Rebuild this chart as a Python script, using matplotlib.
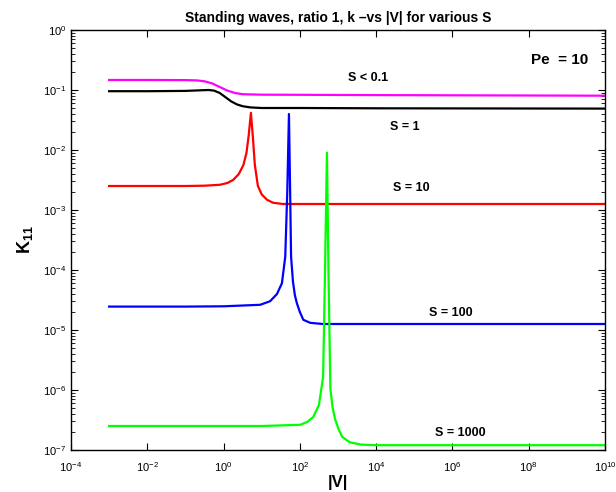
import numpy as np
import matplotlib
matplotlib.use("Agg")
import matplotlib.pyplot as plt
from matplotlib.ticker import LogLocator, NullFormatter, FixedLocator

plt.rcParams['font.family'] = ['Liberation Sans', 'DejaVu Sans']
plt.rcParams['mathtext.fontset'] = 'custom'
plt.rcParams['mathtext.rm'] = 'Liberation Sans'
plt.rcParams['mathtext.it'] = 'Liberation Sans:italic'
plt.rcParams['mathtext.bf'] = 'Liberation Sans:bold'

# log10(|V|) and log10(K11)
mag_lx = [-3, -2, -1, -0.7, -0.5, -0.3, -0.1, 0.1, 0.3, 0.5, 1, 2, 4, 10]
mag_ly = [-0.833, -0.833, -0.835, -0.84, -0.855, -0.89, -0.95, -1.01, -1.05, -1.07, -1.078, -1.08, -1.085, -1.095]

blk_lx = [-3, -2, -1, -0.6, -0.4, -0.25, -0.1, 0.05, 0.2, 0.35, 0.5, 0.7, 1, 2, 4, 10]
blk_ly = [-1.02, -1.02, -1.015, -1.005, -1.0, -1.01, -1.05, -1.12, -1.19, -1.24, -1.27, -1.29, -1.30, -1.30, -1.305, -1.31]

red_lx = [-3, -1, -0.5, -0.1, 0.1, 0.25, 0.4, 0.52, 0.6, 0.66, 0.717, 0.77, 0.82, 0.9, 1.0, 1.14, 1.3, 1.56, 2, 4, 10]
red_ly = [-2.6, -2.6, -2.595, -2.58, -2.55, -2.5, -2.4, -2.25, -2.05, -1.75, -1.38, -1.8, -2.25, -2.6, -2.74, -2.83, -2.88, -2.9, -2.9, -2.9, -2.9]

blu_lx = [-3, -1, 0, 0.96, 1.22, 1.4, 1.53, 1.617, 1.67, 1.714, 1.75, 1.77, 1.82, 1.87, 1.92, 2.0, 2.09, 2.27, 2.6, 4, 10]
blu_ly = [-4.61, -4.61, -4.605, -4.58, -4.52, -4.4, -4.22, -3.78, -2.7, -1.4, -2.9, -3.78, -4.2, -4.42, -4.55, -4.7, -4.83, -4.88, -4.9, -4.9, -4.9]

grn_lx = [-3, -1, 1, 2.01, 2.2, 2.35, 2.5, 2.61, 2.66, 2.71, 2.75, 2.80, 2.86, 2.93, 3.02, 3.11, 3.3, 3.6, 4, 10]
grn_ly = [-6.6, -6.6, -6.6, -6.58, -6.53, -6.45, -6.25, -5.78, -4.0, -2.045, -4.0, -5.97, -6.3, -6.5, -6.66, -6.78, -6.87, -6.91, -6.92, -6.92]

series = [
    (mag_lx, mag_ly, '#ff00ff'),
    (blk_lx, blk_ly, '#000000'),
    (red_lx, red_ly, '#ff0000'),
    (blu_lx, blu_ly, '#0000ff'),
    (grn_lx, grn_ly, '#00ff00'),
]

labels = ['S < 0.1', 'S = 1', 'S = 10', 'S = 100', 'S = 1000']
label_lx = [3.8, 4.74, 4.92, 5.95, 6.2]
label_ly = [-0.8, -1.62, -2.63, -4.72, -6.72]

xtick_exp = [-4, -2, 0, 2, 4, 6, 8, 10]
ytick_exp = [0, -1, -2, -3, -4, -5, -6, -7]

fig = plt.figure(figsize=(6.16, 4.92), dpi=100)
ax = fig.add_axes([71/616, 1 - 450/492, (605-71)/616, (450-30)/492])

for lx, ly, c in series:
    ax.plot(10**np.array(lx, float), 10**np.array(ly, float), color=c, lw=1.6)

ax.set_xscale('log')
ax.set_yscale('log')
ax.set_xlim(1e-4, 1e10)
ax.set_ylim(1e-7, 1e0)

ax.xaxis.set_major_locator(FixedLocator([10.0**e for e in xtick_exp]))
ax.set_xticklabels([r'$10^{%d}$' % e for e in xtick_exp])
ax.xaxis.set_minor_locator(FixedLocator([]))
ax.yaxis.set_major_locator(FixedLocator([10.0**e for e in ytick_exp]))
ax.set_yticklabels([r'$10^{%d}$' % e for e in ytick_exp])
ax.yaxis.set_minor_locator(LogLocator(base=10, subs=np.arange(2, 10), numticks=20))
ax.yaxis.set_minor_formatter(NullFormatter())

ax.tick_params(which='both', direction='in', top=True, right=True, labelsize=8, colors='black')
ax.tick_params(which='major', length=5, width=0.8)
ax.tick_params(which='minor', length=3, width=0.6)
ax.tick_params(axis='x', pad=7)
for s in ax.spines.values():
    s.set_linewidth(1.0)

for t, lx, ly in zip(labels, label_lx, label_ly):
    ax.text(10**lx, 10**ly, t, ha='center', va='center', fontsize=9, fontweight='bold')

ax.text(560/616, 1 - 60/492, 'Pe  = 10', transform=fig.transFigure, ha='center', va='center',
        fontsize=11, fontweight='bold')

ax.set_title('Standing waves, ratio 1, k \u2013vs |V| for various S', fontsize=10, fontweight='bold', pad=6)
ax.set_xlabel('|V|', fontsize=12, fontweight='bold', labelpad=1)
ax.set_ylabel(r'K$_{\mathbf{11}}$', fontsize=13, fontweight='bold', labelpad=6)

fig.savefig('out.png', dpi=100)
